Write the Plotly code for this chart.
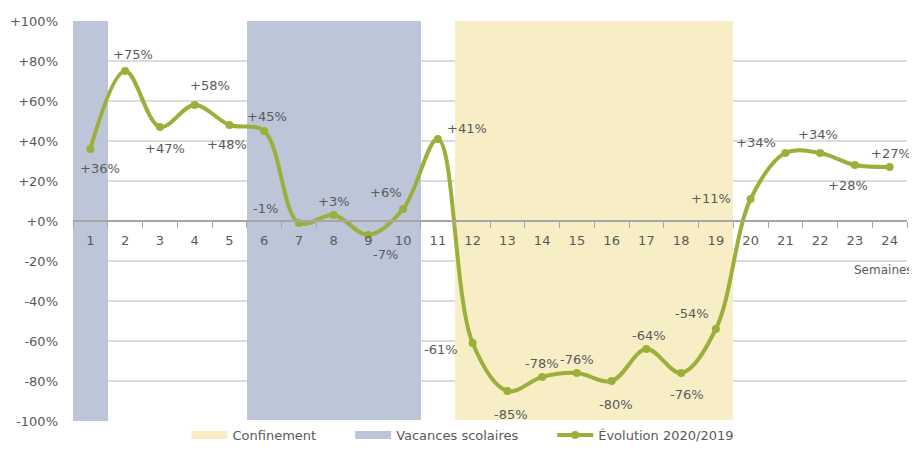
import plotly.graph_objects as go

weeks = list(range(1, 25))
evolution = [36, 75, 47, 58, 48, 45, -1, 3, -7, 6, 41, -61, -85, -78, -76, -80, -64, -76, -54, 11, 34, 34, 28, 27]
vacances_weeks = [1, 6, 7, 8, 9, 10]
confinement_weeks = [12, 13, 14, 15, 16, 17, 18, 19]
y_ticks = [100, 80, 60, 40, 20, 0, -20, -40, -60, -80, -100]
y_ticktext = ["+100%", "+80%", "+60%", "+40%", "+20%", "+0%", "-20%", "-40%", "-60%", "-80%", "-100%"]

# label offsets in pixels (style, not data)
label_offsets = [
    (10, -19), (8, 17), (5, -21), (15, 20), (-2, -19), (3, 15), (-33, 15), (0, 14), (17, -19), (-17, 17),
    (29, 11), (-32, -6), (4, -23), (0, 14), (0, 14), (4, -23), (3, 14), (6, -21), (-24, 16), (-40, 1),
    (-29, 11), (-2, 19), (-7, -20), (1, 14),
]

band_color_vac = "#bdc5d8"
band_color_conf = "#f8eec6"
line_color = "#9bb03a"
text_color = "#5a5a5a"
font_family = "DejaVu Sans, Arial, sans-serif"
pad = "\u00a0" * 7

fig = go.Figure()

fig.add_trace(go.Bar(
    x=confinement_weeks, y=[200] * len(confinement_weeks), base=-100, width=1,
    marker=dict(color=band_color_conf, line=dict(width=0)),
    name="Confinement", hoverinfo="skip", showlegend=False,
))
fig.add_trace(go.Bar(
    x=vacances_weeks, y=[200] * len(vacances_weeks), base=-100, width=1,
    marker=dict(color=band_color_vac, line=dict(width=0)),
    name="Vacances scolaires", hoverinfo="skip", showlegend=False,
))
# legend entries as wide rectangles
fig.add_trace(go.Scatter(
    x=[None], y=[None], mode="lines", line=dict(color=band_color_conf, width=8),
    name="Confinement" + pad,
))
fig.add_trace(go.Scatter(
    x=[None], y=[None], mode="lines", line=dict(color=band_color_vac, width=8),
    name="Vacances scolaires" + pad,
))
fig.add_trace(go.Scatter(
    x=weeks, y=evolution, mode="lines+markers",
    line=dict(color=line_color, width=4, shape="spline", smoothing=1.0),
    marker=dict(color=line_color, size=8),
    name="Évolution 2020/2019",
))

for w, v, (dx, dy) in zip(weeks, evolution, label_offsets):
    fig.add_annotation(
        x=w, y=v, text=("+" if v >= 0 else "-") + f"{abs(v)}%",
        showarrow=False, xshift=dx, yshift=dy,
        font=dict(size=13, color=text_color, family=font_family),
    )

fig.add_annotation(
    x=1, xref="paper", y=-25, yref="y", text="Semaines", showarrow=False,
    xanchor="right", yanchor="top", xshift=8, yshift=10,
    font=dict(size=12, color=text_color, family=font_family),
)

# page has an 8px body margin, so the figure is sized to fit the remaining window
fig.update_layout(
    width=909, height=442,
    margin=dict(l=65, r=10, t=13, b=29, autoexpand=False),
    paper_bgcolor="white", plot_bgcolor="white",
    barmode="overlay", bargap=0,
    font=dict(family=font_family, color=text_color, size=13),
    showlegend=True,
    legend=dict(
        orientation="h", xref="container", x=0.5, xanchor="center",
        yref="container", y=0.0, yanchor="bottom",
        font=dict(size=13, color=text_color, family=font_family),
        traceorder="normal", itemwidth=36,
    ),
    xaxis=dict(
        range=[0.5, 24.5], tickvals=weeks, ticktext=[str(w) for w in weeks],
        showgrid=False, zeroline=False, automargin=False,
        anchor="free", position=0.5,
        showline=True, linecolor="#a6a6a6", linewidth=1.5,
        ticks="", ticklabelstandoff=8,
        tickfont=dict(size=13, color=text_color),
        minor=dict(tickvals=[w + 0.5 for w in [0] + weeks], ticks="outside", ticklen=6,
                   tickcolor="#a6a6a6", showgrid=False),
    ),
    yaxis=dict(
        range=[-100, 100], tickvals=y_ticks, ticktext=y_ticktext,
        showgrid=True, gridcolor="#dcdcdc", gridwidth=1.5, automargin=False,
        zeroline=False, ticks="", ticklabelstandoff=14,
        tickfont=dict(size=13, color=text_color),
    ),
)

fig.write_html("out.html")
